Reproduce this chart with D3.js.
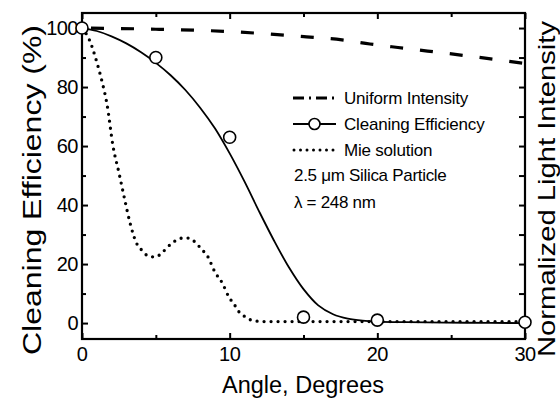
<!DOCTYPE html>
<html>
<head>
<meta charset="utf-8">
<script src="https://cdn.jsdelivr.net/npm/d3@7"></script>
<style>
  html, body { margin: 0; padding: 0; background: #fff; }
  svg { display: block; font-family: Arial, "Liberation Sans", sans-serif; }
</style>
</head>
<body>
<svg id="chart" width="560" height="403"></svg>
<script>
// Uniform-intensity profile (normalized light intensity vs angle)
const uniformAngle = [0, 5, 10, 15.2, 17.6, 19.5, 21.4, 23.4, 25.4, 27.3, 30];
const uniformValue = [100, 99.6, 98.8, 97, 96, 94.6, 93.4, 92.2, 91, 89.8, 88];

// Measured cleaning efficiency (%)
const cleanAngle = [0, 5, 10, 15, 20, 30];
const cleanValue = [100, 90, 63, 2, 1, 0.3];

// Smooth fit through the cleaning efficiency
const fitAngle = [0, 1, 2, 3, 4, 5, 6, 7, 8, 9, 10, 11, 12, 13, 14, 15, 16, 17, 18, 19, 20, 22, 26, 30];
const fitValue = [100, 99, 97.2, 94.8, 91.8, 88.2, 84, 79, 73, 66, 57.5, 48, 37.8, 28, 19, 11.5, 6, 3, 1.5, 0.8, 0.5, 0.3, 0.1, 0];

// Mie solution
const mieAngle = [0, 0.5, 1.0, 1.35, 1.7, 2.1, 2.5, 2.9, 3.25, 3.7, 4.05, 4.5, 4.95, 5.4, 5.8, 6.3, 6.8, 7.2, 7.65, 8.1, 8.5, 9.0, 9.5, 9.95, 10.3, 10.6, 11.1, 11.6, 12.5, 15, 20, 25, 30];
const mieValue = [100, 96, 88.5, 82, 74, 60, 51, 41.7, 34, 27, 24.7, 22.7, 22.4, 23.7, 25.8, 27.8, 28.8, 28.8, 27.5, 25, 22.7, 17.3, 13.6, 8.8, 6.4, 4, 2, 0.8, 0.5, 0.5, 0.5, 0.5, 0.5];

const xTicks = [0, 10, 20, 30];
const yTicks = [0, 20, 40, 60, 80, 100];

const legendLabels = ["Uniform Intensity", "Cleaning Efficiency", "Mie solution"];
const noteLines = ["2.5 \u03bcm Silica Particle", "\u03bb = 248 nm"];

const svg = d3.select("#chart");
const plotL = 82, plotR = 525, plotT = 13, plotB = 339;

const x = d3.scaleLinear().domain([0, 30]).range([plotL, plotR]);
const y = d3.scaleLinear().domain([-5.4, 105.1]).range([plotB, plotT]);

const ink = "#000";

// Axes: ticks point inward on all four sides
const g = svg.append("g");
function ticks(axis, scale, values, len, pos) {
  const a = axis(scale).tickValues(values).tickSize(len).tickFormat("");
  const grp = g.append("g").attr("transform", pos).call(a);
  grp.select(".domain").remove();
  grp.selectAll("line").attr("stroke", ink).attr("stroke-width", 2);
  return grp;
}
// bottom
ticks(d3.axisTop, x, xTicks, 6, `translate(0,${plotB})`);
ticks(d3.axisTop, x, [5, 15, 25], 4, `translate(0,${plotB})`);
// top
ticks(d3.axisBottom, x, xTicks, 6, `translate(0,${plotT})`);
ticks(d3.axisBottom, x, [5, 15, 25], 4, `translate(0,${plotT})`);
// left
ticks(d3.axisRight, y, yTicks, 6, `translate(${plotL},0)`);
ticks(d3.axisRight, y, [10, 30, 50, 70, 90], 4, `translate(${plotL},0)`);
// right
ticks(d3.axisLeft, y, d3.range(0, 101, 10), 6, `translate(${plotR},0)`);

// Frame
svg.append("rect")
  .attr("x", plotL).attr("y", plotT)
  .attr("width", plotR - plotL).attr("height", plotB - plotT)
  .attr("fill", "none").attr("stroke", ink).attr("stroke-width", 2.2);

// Tick labels
svg.append("g").selectAll("text").data(xTicks).join("text")
  .attr("x", d => x(d)).attr("y", 361)
  .attr("text-anchor", "middle")
  .attr("font-size", 20).attr("letter-spacing", -0.5)
  .text(d => d);
svg.append("g").selectAll("text").data(yTicks).join("text")
  .attr("x", 78).attr("y", d => y(d) + 7)
  .attr("text-anchor", "end")
  .attr("font-size", 20).attr("letter-spacing", -0.5)
  .text(d => d);

// Axis titles
svg.append("text")
  .attr("x", 303).attr("y", 393)
  .attr("text-anchor", "middle")
  .attr("font-size", 23.5)
  .text("Angle, Degrees");
svg.append("text")
  .attr("transform", "translate(41,190) rotate(-90)")
  .attr("text-anchor", "middle")
  .attr("font-size", 25)
  .attr("textLength", 330).attr("lengthAdjust", "spacingAndGlyphs")
  .text("Cleaning Efficiency (%)");
svg.append("text")
  .attr("transform", "translate(555,189) rotate(-90)")
  .attr("text-anchor", "middle")
  .attr("font-size", 24)
  .attr("textLength", 336).attr("lengthAdjust", "spacingAndGlyphs")
  .text("Normalized Light Intensity");

// Series
const line = d3.line().x(d => x(d[0])).y(d => y(d[1]));

svg.append("path")
  .datum(d3.zip(uniformAngle, uniformValue))
  .attr("d", line.curve(d3.curveMonotoneX))
  .attr("fill", "none").attr("stroke", ink)
  .attr("stroke-width", 3.2).attr("stroke-dasharray", "13,17")
  .attr("stroke-dashoffset", -9);

svg.append("path")
  .datum(d3.zip(mieAngle, mieValue))
  .attr("d", line.curve(d3.curveMonotoneX))
  .attr("fill", "none").attr("stroke", ink)
  .attr("stroke-width", 3.3).attr("stroke-linecap", "round")
  .attr("stroke-dasharray", "0,7");

svg.append("path")
  .datum(d3.zip(fitAngle, fitValue))
  .attr("d", line.curve(d3.curveCatmullRom.alpha(0.5)))
  .attr("fill", "none").attr("stroke", ink).attr("stroke-width", 1.8);

svg.append("g").selectAll("circle").data(d3.zip(cleanAngle, cleanValue)).join("circle")
  .attr("cx", d => x(d[0])).attr("cy", d => y(d[1])).attr("r", 6)
  .attr("fill", "#fff").attr("stroke", ink).attr("stroke-width", 1.6);

// Legend
const lx = 293, lw = 43, ty = [98, 124, 150];
const leg = svg.append("g");
// dash-dot sample
leg.append("line").attr("x1", lx).attr("x2", lx + lw).attr("y1", ty[0]).attr("y2", ty[0])
  .attr("stroke", ink).attr("stroke-width", 3.2).attr("stroke-dasharray", "11,5,2,5");
// line + circle sample
leg.append("line").attr("x1", lx).attr("x2", lx + lw).attr("y1", ty[1]).attr("y2", ty[1])
  .attr("stroke", ink).attr("stroke-width", 1.8);
leg.append("circle").attr("cx", lx + lw / 2).attr("cy", ty[1]).attr("r", 5.5)
  .attr("fill", "#fff").attr("stroke", ink).attr("stroke-width", 1.6);
// dotted sample
leg.append("line").attr("x1", lx + 1).attr("x2", lx + lw).attr("y1", ty[2]).attr("y2", ty[2])
  .attr("stroke", ink).attr("stroke-width", 3).attr("stroke-linecap", "round")
  .attr("stroke-dasharray", "0,6.5");
leg.selectAll("text.lab").data(legendLabels).join("text")
  .attr("class", "lab")
  .attr("x", 344).attr("y", (d, i) => ty[i] + 6)
  .attr("font-size", 17).attr("letter-spacing", -0.2)
  .text(d => d);
leg.selectAll("text.note").data(noteLines).join("text")
  .attr("class", "note")
  .attr("x", 294).attr("y", (d, i) => 181 + i * 27)
  .attr("font-size", 17).attr("letter-spacing", -0.3)
  .text(d => d);
</script>
</body>
</html>
